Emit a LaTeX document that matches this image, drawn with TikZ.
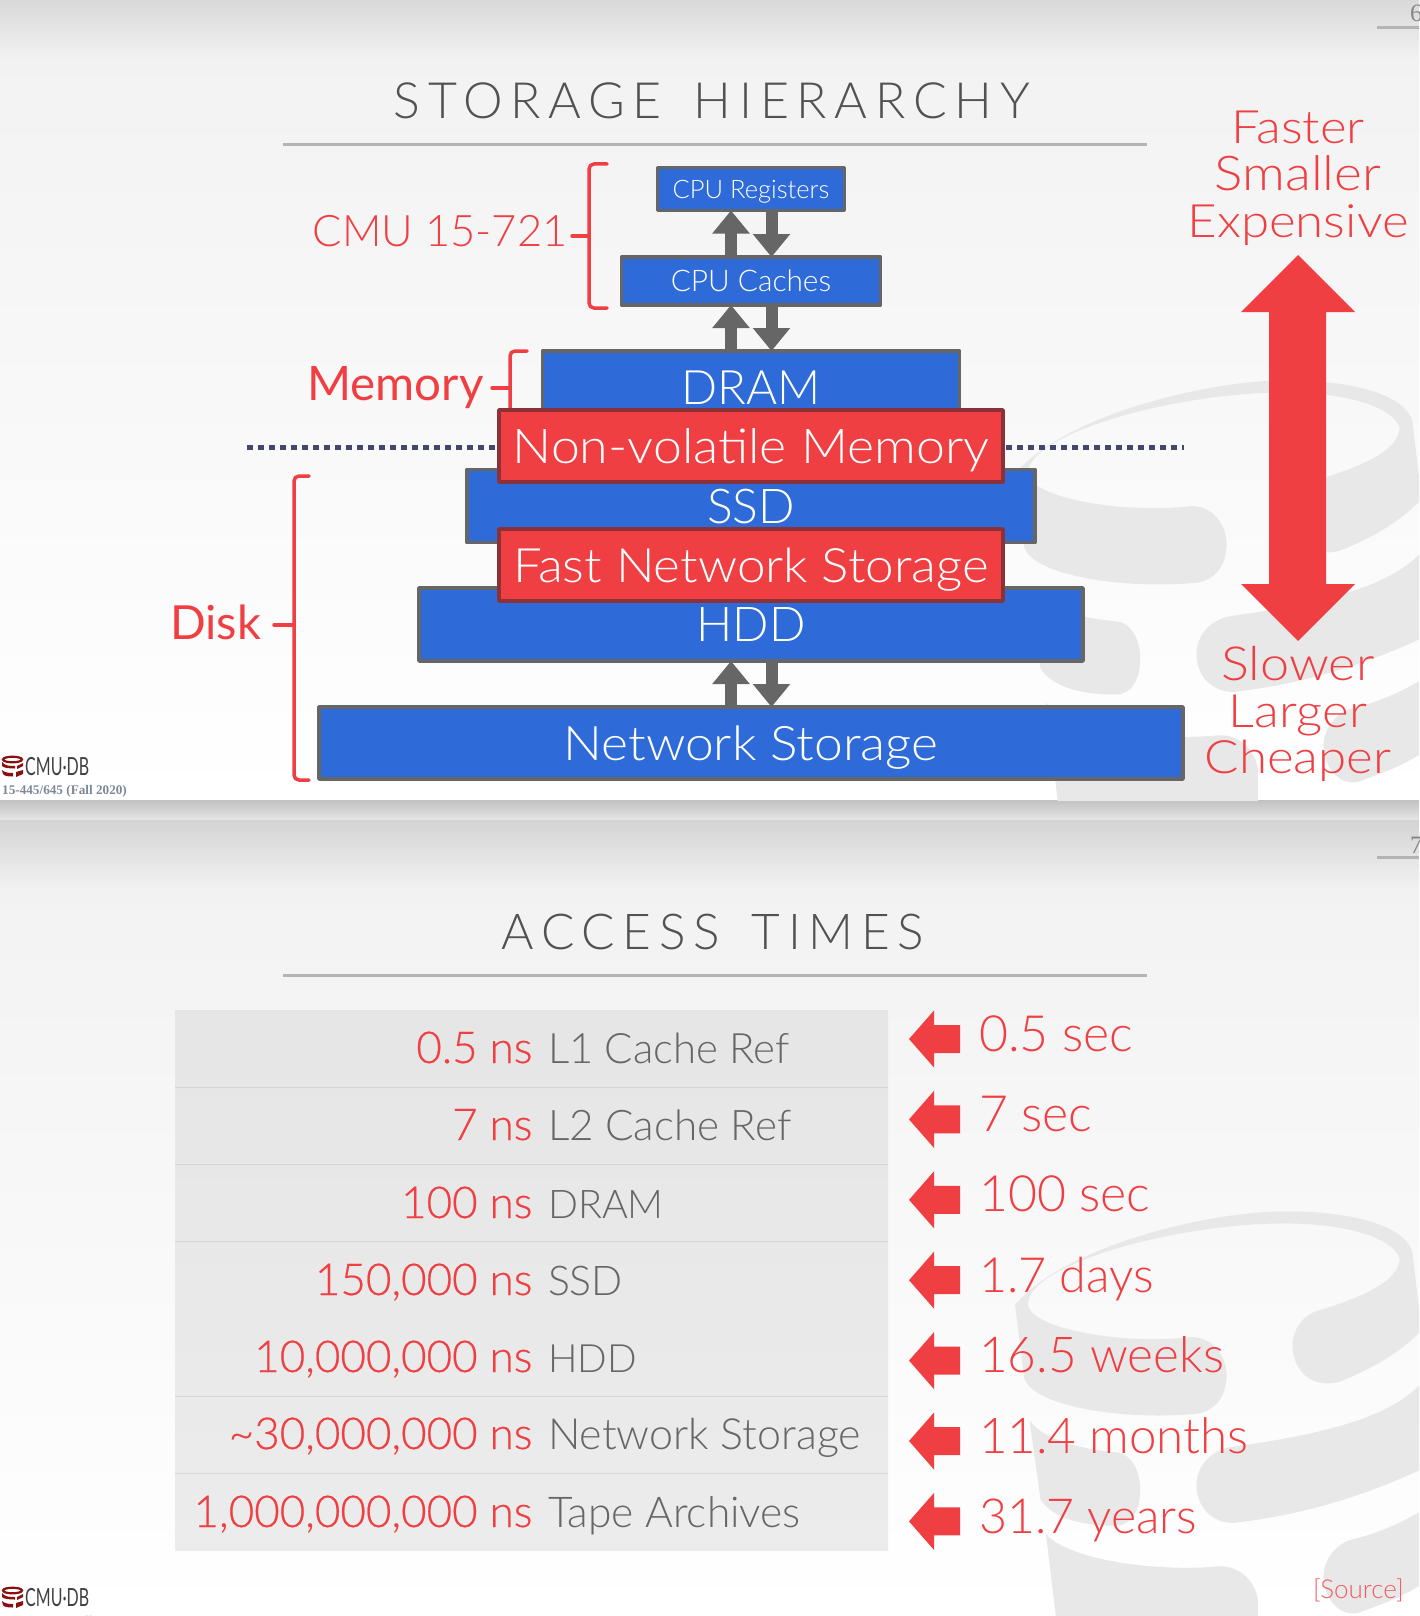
\documentclass[tikz,border=0pt]{standalone}
\usepackage{fontspec}
\usetikzlibrary{arrows.meta,calc}
\setmainfont{Lato Light}
\newfontfamily\reg{Lato}
\newfontfamily\semi[FakeBold=0.5]{Lato Light}
\newfontfamily\lw[FakeStretch=1.08]{Lato Light}
\newfontfamily\lx[FakeStretch=1.11]{Lato Light}
\newfontfamily\cnd[FakeStretch=0.64]{Lato}
\newfontfamily\ttl[LetterSpace=15.5,WordSpace=1.5]{Lato Light}
\newfontfamily\ser{Liberation Serif}
\definecolor{rd}{HTML}{F03F43}
\definecolor{bl}{HTML}{2E6BD9}
\definecolor{gy}{HTML}{666666}
\definecolor{drd}{HTML}{8A3238}
\definecolor{wm}{HTML}{E8E8E8}
\definecolor{rl}{HTML}{B4B4B4}
\definecolor{dbr}{HTML}{8B0F0F}
\definecolor{dotc}{HTML}{44476A}
\definecolor{crs}{HTML}{7F8795}
\newcommand{\fs}[1]{\fontsize{#1}{#1}\selectfont}
\newcommand{\wmark}{
 \fill[wm] (455,800) .. controls (600,650) and (1000,570) .. (1200,570) .. controls (1400,570) and (1530,610) .. (1550,670)
  -- (1575,860) -- (1568,870) .. controls (1500,930) and (1420,965) .. (1350,990) .. controls (1270,1010) and (1220,960) .. (1220,900) .. controls (1220,860) and (1250,825) .. (1290,815)
  .. controls (1420,780) and (1515,740) .. (1515,685) .. controls (1490,630) and (1350,600) .. (1200,600) .. controls (900,600) and (490,700) .. (490,800)
  .. controls (500,860) and (750,900) .. (940,880) .. controls (1000,880) and (1038,925) .. (1038,975) .. controls (1038,1030) and (1000,1070) .. (940,1070)
  .. controls (750,1085) and (500,1050) .. (480,980) -- cycle;
 \fill[wm] (495,1085) .. controls (530,1130) and (620,1155) .. (740,1165) .. controls (775,1170) and (800,1210) .. (800,1255) .. controls (800,1310) and (775,1345) .. (730,1345)
  .. controls (650,1345) and (560,1330) .. (525,1280) -- cycle;
 \fill[wm] (1060,1150) .. controls (1300,1120) and (1480,1080) .. (1568,1000) -- (1590,1200) .. controls (1400,1280) and (1230,1320) .. (1060,1338) .. controls (1000,1340) and (955,1300) .. (955,1245) .. controls (955,1195) and (1000,1155) .. (1060,1150) -- cycle;
 \fill[wm] (540,1365) .. controls (600,1430) and (850,1460) .. (1020,1445) .. controls (1080,1445) and (1125,1490) .. (1125,1540) -- (1125,1700) -- (585,1700) -- cycle;
 \fill[wm] (1380,1380) .. controls (1450,1365) and (1520,1340) .. (1590,1300) -- (1590,1480) .. controls (1530,1520) and (1460,1540) .. (1400,1560) .. controls (1345,1570) and (1305,1520) .. (1305,1470) .. controls (1305,1430) and (1340,1390) .. (1380,1380) -- cycle;
}
\newcommand{\dbicon}[1]{
 \begin{scope}[shift={(0,#1)}]
  \draw[draw=dbr,line width=2.2pt] (12.5,759.5) ellipse (9.5 and 2.8);
  \fill[dbr] (2,762) .. controls (5,766) and (10,766) .. (15,766) -- (15,768.5) .. controls (9,768.5) and (4,768) .. (2,766) -- cycle;
  \fill[dbr] (17,766) -- (23,763) -- (23,766) -- (17,769) -- cycle;
  \fill[dbr] (2,770) .. controls (5,773) and (10,773) .. (13,773) -- (13,776.5) .. controls (8,776.5) and (4,776) .. (3,774) -- cycle;
  \fill[dbr] (16,772) -- (23,770) -- (23,774) -- (16,777) -- cycle;
 \end{scope}
}
\tikzset{
 boxb/.style={draw=gy,fill=bl,line width=3.5pt,line join=round,text=white,inner sep=0pt,outer sep=0pt,text depth=0pt},
 boxr/.style={draw=drd,fill=rd,line width=3.5pt,line join=round,text=white,inner sep=0pt,outer sep=0pt,text depth=0pt},
 garrow/.style={draw=gy,line width=12pt,-{Triangle[length=23pt,width=36pt]},shorten >=0pt},
 brace/.style={draw=rd,line width=3.5pt,line cap=round,rounded corners=5pt},
 redlab/.style={text=rd,inner sep=0pt,outer sep=0pt},
 graylab/.style={text=gy,inner sep=0pt,outer sep=0pt},
 rule/.style={draw=rl,line width=3pt},
 pagerule/.style={draw=rl,line width=2.5pt}
}
\begin{document}
\begin{tikzpicture}[x=1pt,y=-1pt]
\useasboundingbox (0,0) rectangle (1419,1616);
\clip (0,0) rectangle (1419,1616);
% backgrounds
\shade[top color=black!15,bottom color=black!5] (0,0) rectangle (1419,60);
\shade[top color=black!5,bottom color=white] (0,60) rectangle (1419,800);
\shade[top color=black!24,bottom color=black!10] (0,800) rectangle (1419,820);
\shade[top color=black!17,bottom color=black!5] (0,820) rectangle (1419,890);
\shade[top color=black!5,bottom color=white] (0,890) rectangle (1419,1616);
% watermarks
\begin{scope}
 \clip (0,0) rectangle (1419,800);
 \begin{scope}[shift={(850,149)},x=0.3628pt,y=-0.4057pt]\wmark\end{scope}
\end{scope}
\begin{scope}
 \clip (0,820) rectangle (1419,1616);
 \begin{scope}[shift={(850,980)},x=0.3628pt,y=-0.4057pt]\wmark\end{scope}
\end{scope}
% page furniture
\node[text=gy!80,inner sep=0pt,anchor=base west] (p6) at (1410,22) {\ser\fs{25}6};
\coordinate (pl6) at (1377,27.5); \coordinate (pr6) at (1419,27.5);
\draw[pagerule] (pl6) -- (pr6);
\node[text=gy!80,inner sep=0pt,anchor=base west] (p7) at (1410,853) {\ser\fs{25}7};
\coordinate (pl7) at (1377,857.5); \coordinate (pr7) at (1419,857.5);
\draw[pagerule] (pl7) -- (pr7);
% titles
\node[text=black!68,inner sep=0pt,anchor=base] (t1) at (712,119) {\ttl\fs{50}STORAGE HIERARCHY};
\coordinate (tl1) at (283,144.5); \coordinate (tr1) at (1147,144.5);
\draw[rule] (tl1) -- (tr1);
\node[text=black!68,inner sep=0pt,anchor=base] (t2) at (713,949) {\ttl\fs{49.5}ACCESS TIMES};
\coordinate (tl2) at (283,975); \coordinate (tr2) at (1147,975);
\draw[rule] (tl2) -- (tr2);
% dotted line
\coordinate (dl) at (247,447); \coordinate (dr) at (1184,447);
\draw[draw=dotc,line width=5pt,dash pattern=on 6pt off 5pt] (dl) -- (dr);
% braces
\draw[brace] (607,164) -- (589,164) -- (589,308) -- (607,308);
\draw[draw=rd,line width=3.5pt,line cap=round] (572,236) -- (589,236);
\draw[brace] (527,351) -- (510,351) -- (510,430);
\draw[draw=rd,line width=3.5pt,line cap=round] (492,388) -- (510,388);
\draw[brace] (309,476) -- (294,476) -- (294,780) -- (309,780);
\draw[draw=rd,line width=3.5pt,line cap=round] (274,625) -- (294,625);
\node[redlab,anchor=base east] (l1) at (567.5,246) {\fs{43.5}CMU 15-721};
\node[redlab,anchor=base east] (l2) at (483.5,400) {\reg\fs{47.5}Memory};
\node[redlab,anchor=base east] (l3) at (261,639) {\reg\fs{47}Disk};
% boxes
\node[boxb,text height=18pt,minimum width=187pt,minimum height=43pt] (regs) at (751,189) {\fs{25.5}CPU Registers};
\node[boxb,text height=21.5pt,minimum width=259pt,minimum height=48pt] (cache) at (751,281) {\fs{29.8}CPU Caches};
\node[boxb,text height=34pt,minimum width=417pt,minimum height=72pt] (dram) at (751,387) {\fs{47.5}DRAM};
\node[boxb,text height=34.5pt,minimum width=568pt,minimum height=73pt] (ssd) at (751,506) {\fs{48}SSD};
\node[boxb,text height=34.5pt,minimum width=664pt,minimum height=73pt] (hdd) at (751,624.5) {\fs{48}HDD};
\node[boxb,text height=34.5pt,minimum width=864pt,minimum height=72pt] (net) at (751,743) {\lw\fs{47.7}Network Storage};
\node[boxr,text height=34.5pt,minimum width=504pt,minimum height=72pt] (nvm) at (751,446) {\lw\fs{48}Non-volatile Memory};
\node[boxr,text height=34.5pt,minimum width=504pt,minimum height=72pt] (fns) at (751,565) {\lw\fs{47.4}Fast Network Storage};
% small arrows
\coordinate (ux) at (731,0); \coordinate (dx) at (771.5,0);
\draw[garrow] (ux |- cache.north) -- (ux |- regs.south);
\draw[garrow] (dx |- regs.south) -- (dx |- cache.north);
\draw[garrow] (ux |- dram.north) -- (ux |- cache.south);
\draw[garrow] (dx |- cache.south) -- (dx |- dram.north);
\draw[garrow] (ux |- net.north) -- (ux |- hdd.south);
\draw[garrow] (dx |- hdd.south) -- (dx |- net.north);
% big arrow
\fill[rd] (1298,255) -- (1355,312) -- (1326,312) -- (1326,584) -- (1355,584) -- (1298,641) -- (1241,584) -- (1269,584) -- (1269,312) -- (1241,312) -- cycle;
\node[redlab,anchor=base] (f1) at (1298,144) {\lx\fs{46}Faster};
\node[redlab,anchor=base] (f2) at (1298,190.7) {\lx\fs{48}Smaller};
\node[redlab,anchor=base] (f3) at (1298,237) {\lx\fs{46}Expensive};
\node[redlab,anchor=base] (s1) at (1298,680) {\lx\fs{47}Slower};
\node[redlab,anchor=base] (s2) at (1298,727) {\lx\fs{46}Larger};
\node[redlab,anchor=base] (s3) at (1298,773) {\lx\fs{46}Cheaper};
% table
\shade[top color=black!10,bottom color=black!7.5] (175,1010) rectangle (888,1550);
\foreach \ly in {1087,1164,1241,1396,1473}{
 \draw[draw=black!16,line width=1pt] (175,\ly) -- (888,\ly);
}
\foreach \n/\by/\num/\sz/\lab in {a/1063/{0.5}/41.9/L1 Cache Ref,b/1140/{7}/42.2/L2 Cache Ref,c/1218/{100}/39.5/DRAM,d/1295/{150,000}/41/SSD,e/1372/{10,000,000}/39/HDD,f/1449/{\textasciitilde 30,000,000}/43/Network Storage,g/1527/{1,000,000,000}/42.5/Tape Archives}{
 \node[redlab,anchor=base east] (num\n) at (532.5,\by) {\semi\fs{44}\num\ ns};
 \node[graylab,anchor=base west] (lab\n) at (548,\by) {\fs{\sz}\lab};
}
% red arrows + times
\foreach \i/\sz/\tx in {0/50/0.5 sec,1/50/7 sec,2/50/100 sec,3/48.5/1.7 days,4/49.5/16.5 weeks,5/49.3/11.4 months,6/48.3/31.7 years}{
 \pgfmathsetmacro{\cy}{1039+80.4*\i}
 \fill[rd] (909,\cy) -- (934,\cy-28.5) -- (934,\cy-14) -- (960,\cy-14) -- (960,\cy+14) -- (934,\cy+14) -- (934,\cy+28.5) -- cycle;
 \node[redlab,anchor=base west] (tm\i) at (979,\cy+12) {\fs{\sz}\tx};
}
\node[text=rd!85,inner sep=0pt,anchor=base east] (src) at (1404,1598) {\fs{26}[Source]};
% logos
\dbicon{0}
\dbicon{831}
\node[text=black!75,inner sep=0pt,anchor=base west] (c1) at (25,775) {\cnd\fs{25}CMU·DB};
\node[text=black!75,inner sep=0pt,anchor=base west] (c2) at (25,1606) {\cnd\fs{25}CMU·DB};
\node[text=crs,inner sep=0pt,anchor=base west] (cc1) at (2,794) {\ser\bfseries\fs{13.2}15-445/645 (Fall 2020)};
\node[text=crs,inner sep=0pt,anchor=base west] (cc2) at (2,1625) {\ser\bfseries\fs{13.2}15-445/645 (Fall 2020)};
\end{tikzpicture}
\end{document}
